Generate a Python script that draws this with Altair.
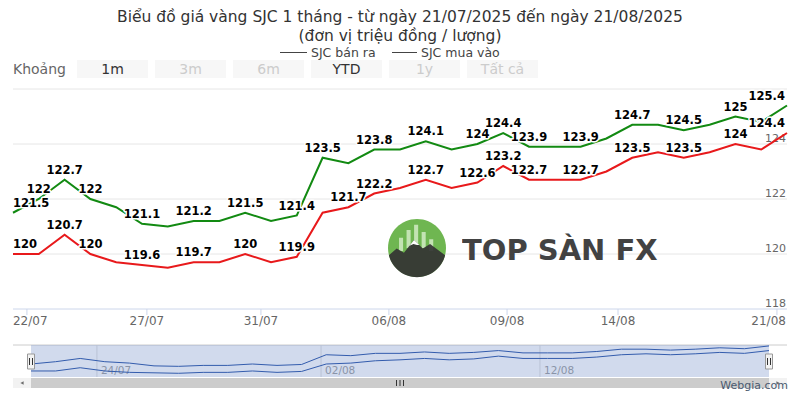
import altair as alt
import pandas as pd

# ---------------- data ----------------
title_lines = ["Biểu đồ giá vàng SJC 1 tháng - từ ngày 21/07/2025 đến ngày 21/08/2025",
               "(đơn vị triệu đồng / lượng)"]
series_names = ["SJC bán ra", "SJC mua vào"]
series_colors = ["#128a12", "#e8191b"]

ban_ra = [121.5, 122.0, 122.7, 122.0, 121.7, 121.1, 121.0, 121.2, 121.2, 121.5, 121.2,
          121.4, 123.5, 123.3, 123.8, 123.8, 124.1, 123.8, 124.0, 124.4, 123.9, 123.9,
          123.9, 124.2, 124.7, 124.7, 124.5, 124.7, 125.0, 124.8, 125.4]
mua_vao = [120.0, 120.0, 120.7, 120.0, 119.7, 119.6, 119.5, 119.7, 119.7, 120.0, 119.7,
           119.9, 121.5, 121.7, 122.2, 122.4, 122.7, 122.4, 122.6, 123.2, 122.7, 122.7,
           122.7, 123.0, 123.5, 123.7, 123.5, 123.7, 124.0, 123.8, 124.4]
# indices of points whose data label is visible
ban_ra_labels = [0, 1, 2, 3, 5, 7, 9, 11, 12, 14, 16, 18, 19, 20, 22, 24, 26, 28, 30]
mua_vao_labels = [0, 2, 3, 5, 7, 9, 11, 13, 14, 16, 18, 19, 20, 22, 24, 26, 28, 30]

x_tick_pos = [0.54, 5.19, 9.61, 14.57, 19.15, 23.45, 29.61]
x_tick_labels = ["22/07", "27/07", "31/07", "06/08", "09/08", "14/08", "21/08"]
y_ticks = [118, 120, 122, 124, 126]
nav_tick_pos = [2.68, 11.79, 20.69]
nav_tick_labels = ["24/07", "02/08", "12/08"]
range_title = "Khoảng"
range_buttons = ["1m", "3m", "6m", "YTD", "1y", "Tất cả"]
range_active = [True, False, False, True, False, False]
credit = "Webgia.com"
watermark = "TOP SÀN FX"

# ---------------- tables ----------------
rows = []
for s, vals, labs in ((series_names[0], ban_ra, ban_ra_labels),
                      (series_names[1], mua_vao, mua_vao_labels)):
    for i, v in enumerate(vals):
        rows.append({"i": i, "v": v, "s": s, "lab": i in labs})
df = pd.DataFrame(rows)
n = len(ban_ra) - 1

ticks_df = pd.DataFrame({"p": x_tick_pos, "t": x_tick_labels, "k": range(len(x_tick_pos))})
nav_df = pd.DataFrame({"p": nav_tick_pos, "t": nav_tick_labels})
btn_df = pd.DataFrame({"t": range_buttons, "a": range_active, "k": range(len(range_buttons))})
one = pd.DataFrame({"a": [0]})

FONT = "DejaVu Sans"
xs = alt.Scale(domain=[0, n], range=[5, 779])
ys = alt.Scale(domain=[y_ticks[0], y_ticks[-1]], range=[301, 81])
nxs = alt.Scale(domain=[0, n], range=[23, 761])
nys = alt.Scale(domain=[118.7, 125.6], range=[369, 337])

X = alt.X("i:Q", scale=xs, axis=None)
Y = alt.Y("v:Q", scale=ys, axis=None)
col = alt.Color("s:N", scale=alt.Scale(domain=series_names, range=series_colors), legend=None)

layers = []

# ---- title + legend ----
layers.append(alt.Chart(one).mark_text(font=FONT, fontSize=15.5, color="#333333", baseline="alphabetic")
              .encode(x=alt.value(392), y=alt.value(14), text=alt.value(title_lines[0])))
layers.append(alt.Chart(one).mark_text(font=FONT, fontSize=15.5, color="#333333", baseline="alphabetic")
              .encode(x=alt.value(392), y=alt.value(32.5), text=alt.value(title_lines[1])))
layers.append(alt.Chart(one).mark_rule(color="#444444", strokeWidth=1)
              .encode(x=alt.value(272), x2=alt.value(299), y=alt.value(44.5)))
layers.append(alt.Chart(one).mark_rule(color="#444444", strokeWidth=1)
              .encode(x=alt.value(384), x2=alt.value(409), y=alt.value(44.5)))
layers.append(alt.Chart(one).mark_text(font=FONT, fontSize=12.5, color="#444444", baseline="middle",
                                       align="left")
              .encode(x=alt.value(303), y=alt.value(44.5), text=alt.value(series_names[0])))
layers.append(alt.Chart(one).mark_text(font=FONT, fontSize=12.5, color="#444444", baseline="middle",
                                       align="left")
              .encode(x=alt.value(413), y=alt.value(44.5), text=alt.value(series_names[1])))

# ---- range selector ----
layers.append(alt.Chart(one).mark_text(font=FONT, fontSize=14, color="#666666", align="left", baseline="middle")
              .encode(x=alt.value(5), y=alt.value(62), text=alt.value(range_title)))
btn = alt.Chart(btn_df).transform_calculate(x0="69 + 78 * datum.k", x1="140 + 78 * datum.k",
                                             xc="104.5 + 78 * datum.k")
layers.append(btn.mark_rect(color="#f7f7f7").encode(
    x=alt.X("x0:Q", scale=None, axis=None), x2="x1:Q", y=alt.value(52), y2=alt.value(70)))
layers.append(btn.mark_text(font=FONT, fontSize=14, baseline="middle").encode(
    x=alt.X("xc:Q", scale=None, axis=None), y=alt.value(62), text="t:N",
    color=alt.condition("datum.a", alt.value("#333333"), alt.value("#cccccc"))))

# ---- grid + axes ----
layers.append(alt.Chart(pd.DataFrame({"g": y_ticks[1:]})).mark_rule(color="#e6e6e6")
              .encode(y=alt.Y("g:Q", scale=ys, axis=None), x=alt.value(5), x2=alt.value(779)))
layers.append(alt.Chart(pd.DataFrame({"g": y_ticks[:1]})).mark_rule(color="#ccd6eb")
              .encode(y=alt.Y("g:Q", scale=ys, axis=None), x=alt.value(5), x2=alt.value(779)))
layers.append(alt.Chart(pd.DataFrame({"g": y_ticks[:-1]}))
              .mark_text(font=FONT, fontSize=11, color="#666666", align="right", baseline="alphabetic", dy=-2.5)
              .encode(y=alt.Y("g:Q", scale=ys, axis=None), x=alt.value(778), text="g:Q"))
layers.append(alt.Chart(ticks_df).mark_rule(color="#ccd6eb")
              .encode(x=alt.X("p:Q", scale=xs, axis=None), y=alt.value(301), y2=alt.value(307)))
last_k = len(x_tick_pos) - 1
tick_text = alt.Chart(ticks_df).mark_text(font=FONT, fontSize=12, color="#666666", baseline="alphabetic")
layers.append(tick_text.transform_filter(f"datum.k > 0 && datum.k < {last_k}")
              .encode(x=alt.X("p:Q", scale=xs, axis=None), y=alt.value(317), text="t:N"))
layers.append(alt.Chart(ticks_df).transform_filter("datum.k == 0")
              .mark_text(font=FONT, fontSize=12, color="#666666", baseline="alphabetic", align="left", dx=-14)
              .encode(x=alt.X("p:Q", scale=xs, axis=None), y=alt.value(317), text="t:N"))
layers.append(alt.Chart(ticks_df).transform_filter(f"datum.k == {last_k}")
              .mark_text(font=FONT, fontSize=12, color="#666666", baseline="alphabetic", align="right", dx=9)
              .encode(x=alt.X("p:Q", scale=xs, axis=None), y=alt.value(317), text="t:N"))

# ---- watermark ----
circle_path = "M 0 -1 A 1 1 0 1 1 0 1 A 1 1 0 1 1 0 -1 Z"
bars_path = ("M -0.62 0.1 h 0.14 v -0.45 h -0.14 Z M -0.36 0.0 h 0.14 v -0.62 h -0.14 Z "
             "M -0.1 -0.1 h 0.14 v -0.7 h -0.14 Z M 0.16 0.0 h 0.14 v -0.55 h -0.14 Z "
             "M 0.42 0.1 h 0.14 v -0.4 h -0.14 Z")
mountain_path = ("M -0.97 0.25 L -0.7 0.02 L -0.45 0.16 L -0.1 -0.28 L 0.2 0.02 L 0.45 -0.14 "
                 "L 0.97 0.25 A 1 1 0 0 1 -0.97 0.25 Z")
snow_path = "M -0.1 -0.28 L -0.26 -0.08 L -0.12 -0.14 L 0.0 -0.1 L 0.08 -0.1 Z"
for path, c, op in ((circle_path, "#5fae3e", 0.9), (bars_path, "#d8efcc", 0.8),
                    (mountain_path, "#333333", 0.92), (snow_path, "#ffffff", 1.0)):
    layers.append(alt.Chart(one).mark_point(shape=path, size=3364, filled=True, color=c, opacity=op,
                                            strokeWidth=0)
                  .encode(x=alt.value(409), y=alt.value(240)))
layers.append(alt.Chart(one).mark_text(font=FONT, fontSize=29, fontWeight="bold", color="#333333",
                                       opacity=0.92, baseline="middle", align="left")
              .encode(x=alt.value(454), y=alt.value(243), text=alt.value(watermark)))

# ---- series ----
layers.append(alt.Chart(df).mark_line(strokeWidth=2).encode(x=X, y=Y, color=col))


def label_layers(flt, align, dx):
    out = []
    for fill, stroke, sw in (("#ffffff", "#ffffff", 3), ("#000000", None, 0)):
        kw = dict(font=FONT, fontSize=11.5, fontWeight="bold", fill=fill, align=align,
                  baseline="middle", dy=-9, dx=dx)
        if stroke:
            kw.update(stroke=stroke, strokeWidth=sw, strokeJoin="round")
        out.append(alt.Chart(df).transform_filter(flt).mark_text(**kw)
                   .encode(x=X, y=Y, text=alt.Text("v:Q", format="~r")))
    return out


layers += label_layers(f"datum.lab && datum.i > 0 && datum.i < {n}", "center", 0)
layers += label_layers("datum.lab && datum.i == 0", "left", 0)
layers += label_layers(f"datum.lab && datum.i == {n}", "right", -2)

# ---- navigator ----
layers.append(alt.Chart(one).mark_rule(color="#cccccc")
              .encode(x=alt.value(5), x2=alt.value(779), y=alt.value(337)))
layers.append(alt.Chart(nav_df).mark_rule(color="#dddddd")
              .encode(x=alt.X("p:Q", scale=nxs, axis=None), y=alt.value(337), y2=alt.value(369)))
layers.append(alt.Chart(one).mark_rect(color="#6685c2", opacity=0.3)
              .encode(x=alt.value(23), x2=alt.value(761), y=alt.value(337), y2=alt.value(369)))
layers.append(alt.Chart(nav_df).mark_text(font=FONT, fontSize=10.5, color="#8a94a8", align="left",
                                          baseline="middle", dx=4)
              .encode(x=alt.X("p:Q", scale=nxs, axis=None), y=alt.value(363), text="t:N"))
layers.append(alt.Chart(df).mark_line(strokeWidth=1, color="#335cad")
              .encode(x=alt.X("i:Q", scale=nxs, axis=None), y=alt.Y("v:Q", scale=nys, axis=None),
                      detail="s:N"))
for hx in (23, 761):
    layers.append(alt.Chart(one).mark_rect(color="#f2f2f2", stroke="#999999", strokeWidth=1)
                  .encode(x=alt.value(hx - 3.5), x2=alt.value(hx + 3.5), y=alt.value(346), y2=alt.value(361)))
    for d in (-1.5, 1.5):
        layers.append(alt.Chart(one).mark_rule(color="#333333", strokeWidth=1)
                      .encode(x=alt.value(hx + d), y=alt.value(350), y2=alt.value(357)))

# ---- scrollbar ----
layers.append(alt.Chart(one).mark_rect(color="#f2f2f2")
              .encode(x=alt.value(5), x2=alt.value(779), y=alt.value(370), y2=alt.value(380)))
layers.append(alt.Chart(one).mark_rect(color="#cccccc")
              .encode(x=alt.value(23), x2=alt.value(761), y=alt.value(370), y2=alt.value(380)))
for ax, shp in ((14, "triangle-left"), (770, "triangle-right")):
    layers.append(alt.Chart(one).mark_point(shape=shp, size=14, filled=True, color="#333333")
                  .encode(x=alt.value(ax), y=alt.value(375)))
for gx in (388.5, 392, 395.5):
    layers.append(alt.Chart(one).mark_rule(color="#333333", strokeWidth=1)
                  .encode(x=alt.value(gx), y=alt.value(372), y2=alt.value(378)))

# ---- credits ----
layers.append(alt.Chart(one).mark_text(font=FONT, fontSize=11, color="#4a5a70", align="right",
                                       baseline="alphabetic")
              .encode(x=alt.value(780), y=alt.value(381), text=alt.value(credit)))

chart = (alt.layer(*layers)
         .resolve_scale(x="independent", y="independent")
         .properties(width=784, height=384, autosize=alt.AutoSizeParams(type="none"), padding=0,
                     background="white")
         .configure_view(stroke=None))

chart.save("out.html", embed_options={"renderer": "svg", "actions": False})
